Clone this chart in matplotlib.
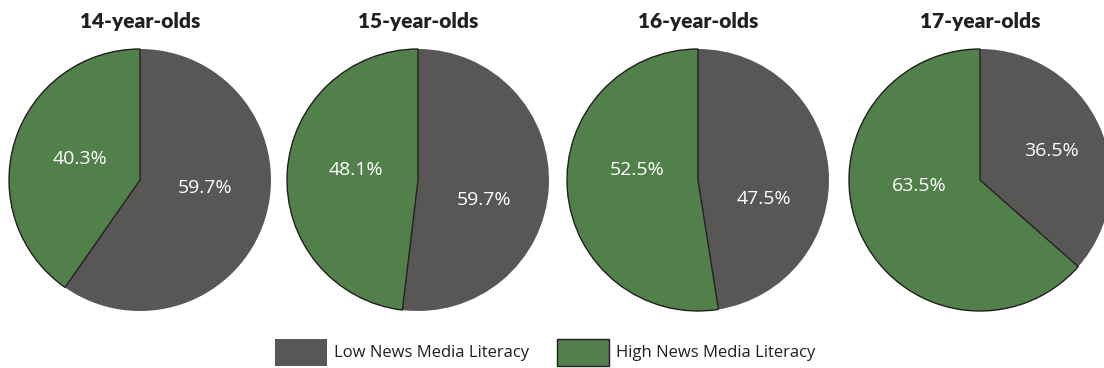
import matplotlib
matplotlib.use("Agg")
import matplotlib.pyplot as plt
from matplotlib.patches import Rectangle

# Survey results: share of each age group with high news media literacy
age_groups = ["14-year-olds", "15-year-olds", "16-year-olds", "17-year-olds"]
high_share = [40.3, 48.1, 52.5, 63.5]
low_share = [round(100 - h, 1) for h in high_share]
# Percentages as printed on the low slices
low_labels = ["59.7%", "59.7%", "47.5%", "36.5%"]
high_labels = [f"{h:.1f}%" for h in high_share]
series_names = ["Low News Media Literacy", "High News Media Literacy"]

LOW_COLOR = "#595756"
HIGH_COLOR = "#52804a"
EDGE_COLOR = "#231f20"

W, H = 1104, 368
fig = plt.figure(figsize=(W / 100, H / 100), dpi=100)

# Layout (pixels from the top-left corner)
centers_x = [140, 418, 698, 980]
center_y = 180
radius = 131
lim = 1.05
# Label offsets in units of the pie radius: (low label, high label)
low_pos = [(0.496, -0.061), (0.504, -0.153), (0.504, -0.145), (0.542, 0.225)]
high_pos = [(-0.458, 0.160), (-0.473, 0.076), (-0.466, 0.076), (-0.466, -0.042)]

label_font = "Open Sans"
title_font = ["Lato", "DejaVu Sans"]

for i, name in enumerate(age_groups):
    half = radius * lim
    ax = fig.add_axes([(centers_x[i] - half) / W, (H - center_y - half) / H,
                       2 * half / W, 2 * half / H])
    wedges, _ = ax.pie([low_share[i], high_share[i]], colors=[LOW_COLOR, HIGH_COLOR],
                       startangle=90, counterclock=False, radius=1.0)
    wedges[0].set_edgecolor("none")
    wedges[1].set_edgecolor(EDGE_COLOR)
    wedges[1].set_linewidth(1.0)
    for w in wedges:
        w.set_clip_on(False)
    ax.set_xlim(-lim, lim)
    ax.set_ylim(-lim, lim)
    ax.set_aspect("equal")
    ax.axis("off")
    ax.text(*low_pos[i], low_labels[i], color="white", fontsize=14,
            family=label_font, ha="center", va="center")
    ax.text(*high_pos[i], high_labels[i], color="white", fontsize=14,
            family=label_font, ha="center", va="center")
    fig.text(centers_x[i] / W, (H - 28) / H, name, ha="center", va="baseline",
             fontsize=15, fontweight="heavy", family=title_font, color="#231f20")

# Legend drawn as patches with labels beneath the pies
legend_items = [
    (275, LOW_COLOR, "none", series_names[0]),
    (557, HIGH_COLOR, EDGE_COLOR, series_names[1]),
]
for x0, fc, ec, text in legend_items:
    fig.add_artist(Rectangle((x0 / W, (H - 366) / H), 52 / W, 27 / H,
                             facecolor=fc, edgecolor=ec, linewidth=1.0,
                             transform=fig.transFigure))
    fig.text((x0 + 59) / W, (H - 353) / H, text, ha="left", va="center",
             fontsize=12, family=label_font, color="#231f20")

fig.savefig("out.png", dpi=100)
